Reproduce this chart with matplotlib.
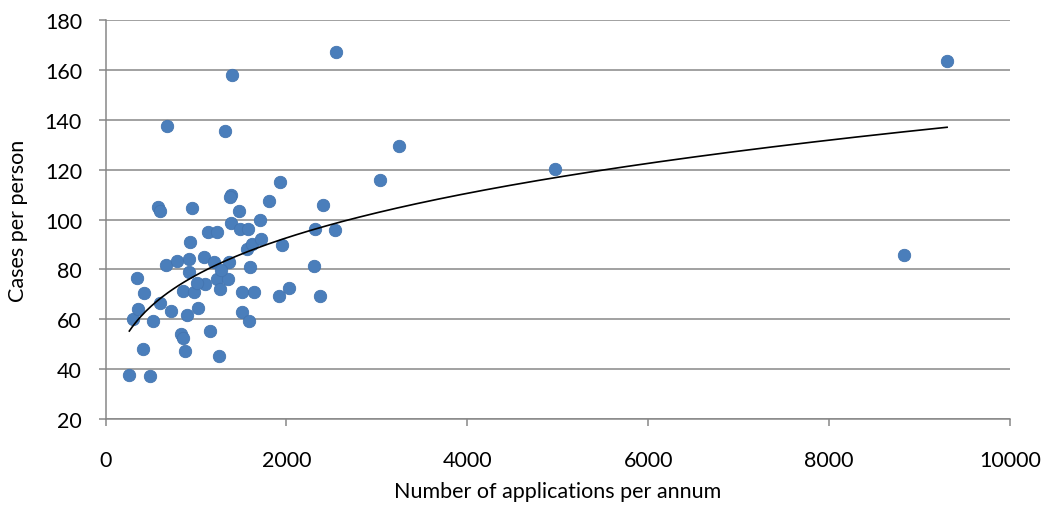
import matplotlib.pyplot as plt
import numpy as np

# applications per annum vs cases per person, one point per office
applications = [263, 492, 418, 879, 301, 522, 345, 429, 356, 603,
                724, 860, 978, 898, 1026, 829, 857, 1155, 1258, 1229,
                1358, 1266, 1100, 1012, 1506, 1645, 1506, 1587, 1598, 1922,
                2032, 2372, 584, 603, 960, 1388, 1376, 1476, 1388, 1487,
                1579, 1708, 1808, 1130, 1229, 934, 669, 787, 923, 1092,
                1200, 1369, 1561, 1616, 1719, 923, 1277, 1929, 2408, 1948,
                2316, 2537, 2305, 3035, 683, 1321, 1395, 2545, 3245, 4970,
                9304, 8828]
cases = [37.7, 37.4, 48.1, 47.4, 60.1, 59.5, 76.5, 70.6, 64.2, 66.6,
         63.3, 71.5, 71.1, 61.7, 64.6, 53.9, 52.5, 55.2, 45.4, 76.2,
         76.2, 72.2, 74.2, 74.7, 70.9, 70.9, 62.8, 59.2, 81.0, 69.5,
         72.6, 69.2, 105.0, 103.6, 104.7, 110.0, 109.0, 103.6, 98.7, 96.3,
         96.3, 99.9, 107.6, 94.9, 95.2, 90.9, 81.7, 83.3, 84.2, 84.9,
         82.9, 82.9, 88.2, 90.2, 92.2, 78.9, 79.6, 115.2, 105.9, 89.8,
         96.3, 96.0, 81.3, 116.0, 137.7, 135.5, 158.0, 167.2, 129.6, 120.3,
         163.7, 85.8]

x = np.array(applications, dtype=float)
y = np.array(cases)

# power trendline  y = c * x**p  (least squares on log-log)
p, lnc = np.polyfit(np.log(x), np.log(y), 1)
xt = np.linspace(x.min(), x.max(), 300)
yt = np.exp(lnc) * xt ** p

plt.rcParams['font.family'] = ['Lato', 'DejaVu Sans']

fig = plt.figure(figsize=(10.47, 5.06), dpi=100)
ax = fig.add_axes([0.1008, 0.170, 0.8639, 0.788])

ax.scatter(x, y, s=80, color='#4A7EBB', edgecolors='#4475B0', linewidths=0.6, zorder=3)
ax.plot(xt, yt, color='black', lw=1.2, zorder=4)

ax.set_xlim(0, 10000)
ax.set_ylim(20, 180)
ax.set_xticks(np.arange(0, 10001, 2000))
ax.set_yticks(np.arange(20, 181, 20))

ax.grid(axis='y', color='#878787', lw=1.1)
ax.set_axisbelow(True)
for side in ['top', 'right']:
    ax.spines[side].set_visible(False)
for side in ['left', 'bottom']:
    ax.spines[side].set_color('#878787')
    ax.spines[side].set_linewidth(1.1)
ax.tick_params(axis='both', colors='#878787', labelcolor='black', labelsize=15.5,
               length=5, width=1.1)
ax.tick_params(axis='x', pad=17)
ax.tick_params(axis='y', pad=12)

ax.set_xlabel('Number of applications per annum', fontsize=15.5)
ax.set_ylabel('Cases per person', fontsize=15.5)
ax.xaxis.set_label_coords(0.5, -0.181)
ax.xaxis.label.set_va('center')
ax.yaxis.set_label_coords(-0.097, 0.5)
ax.yaxis.label.set_va('center')

fig.savefig('out.png', dpi=100)
